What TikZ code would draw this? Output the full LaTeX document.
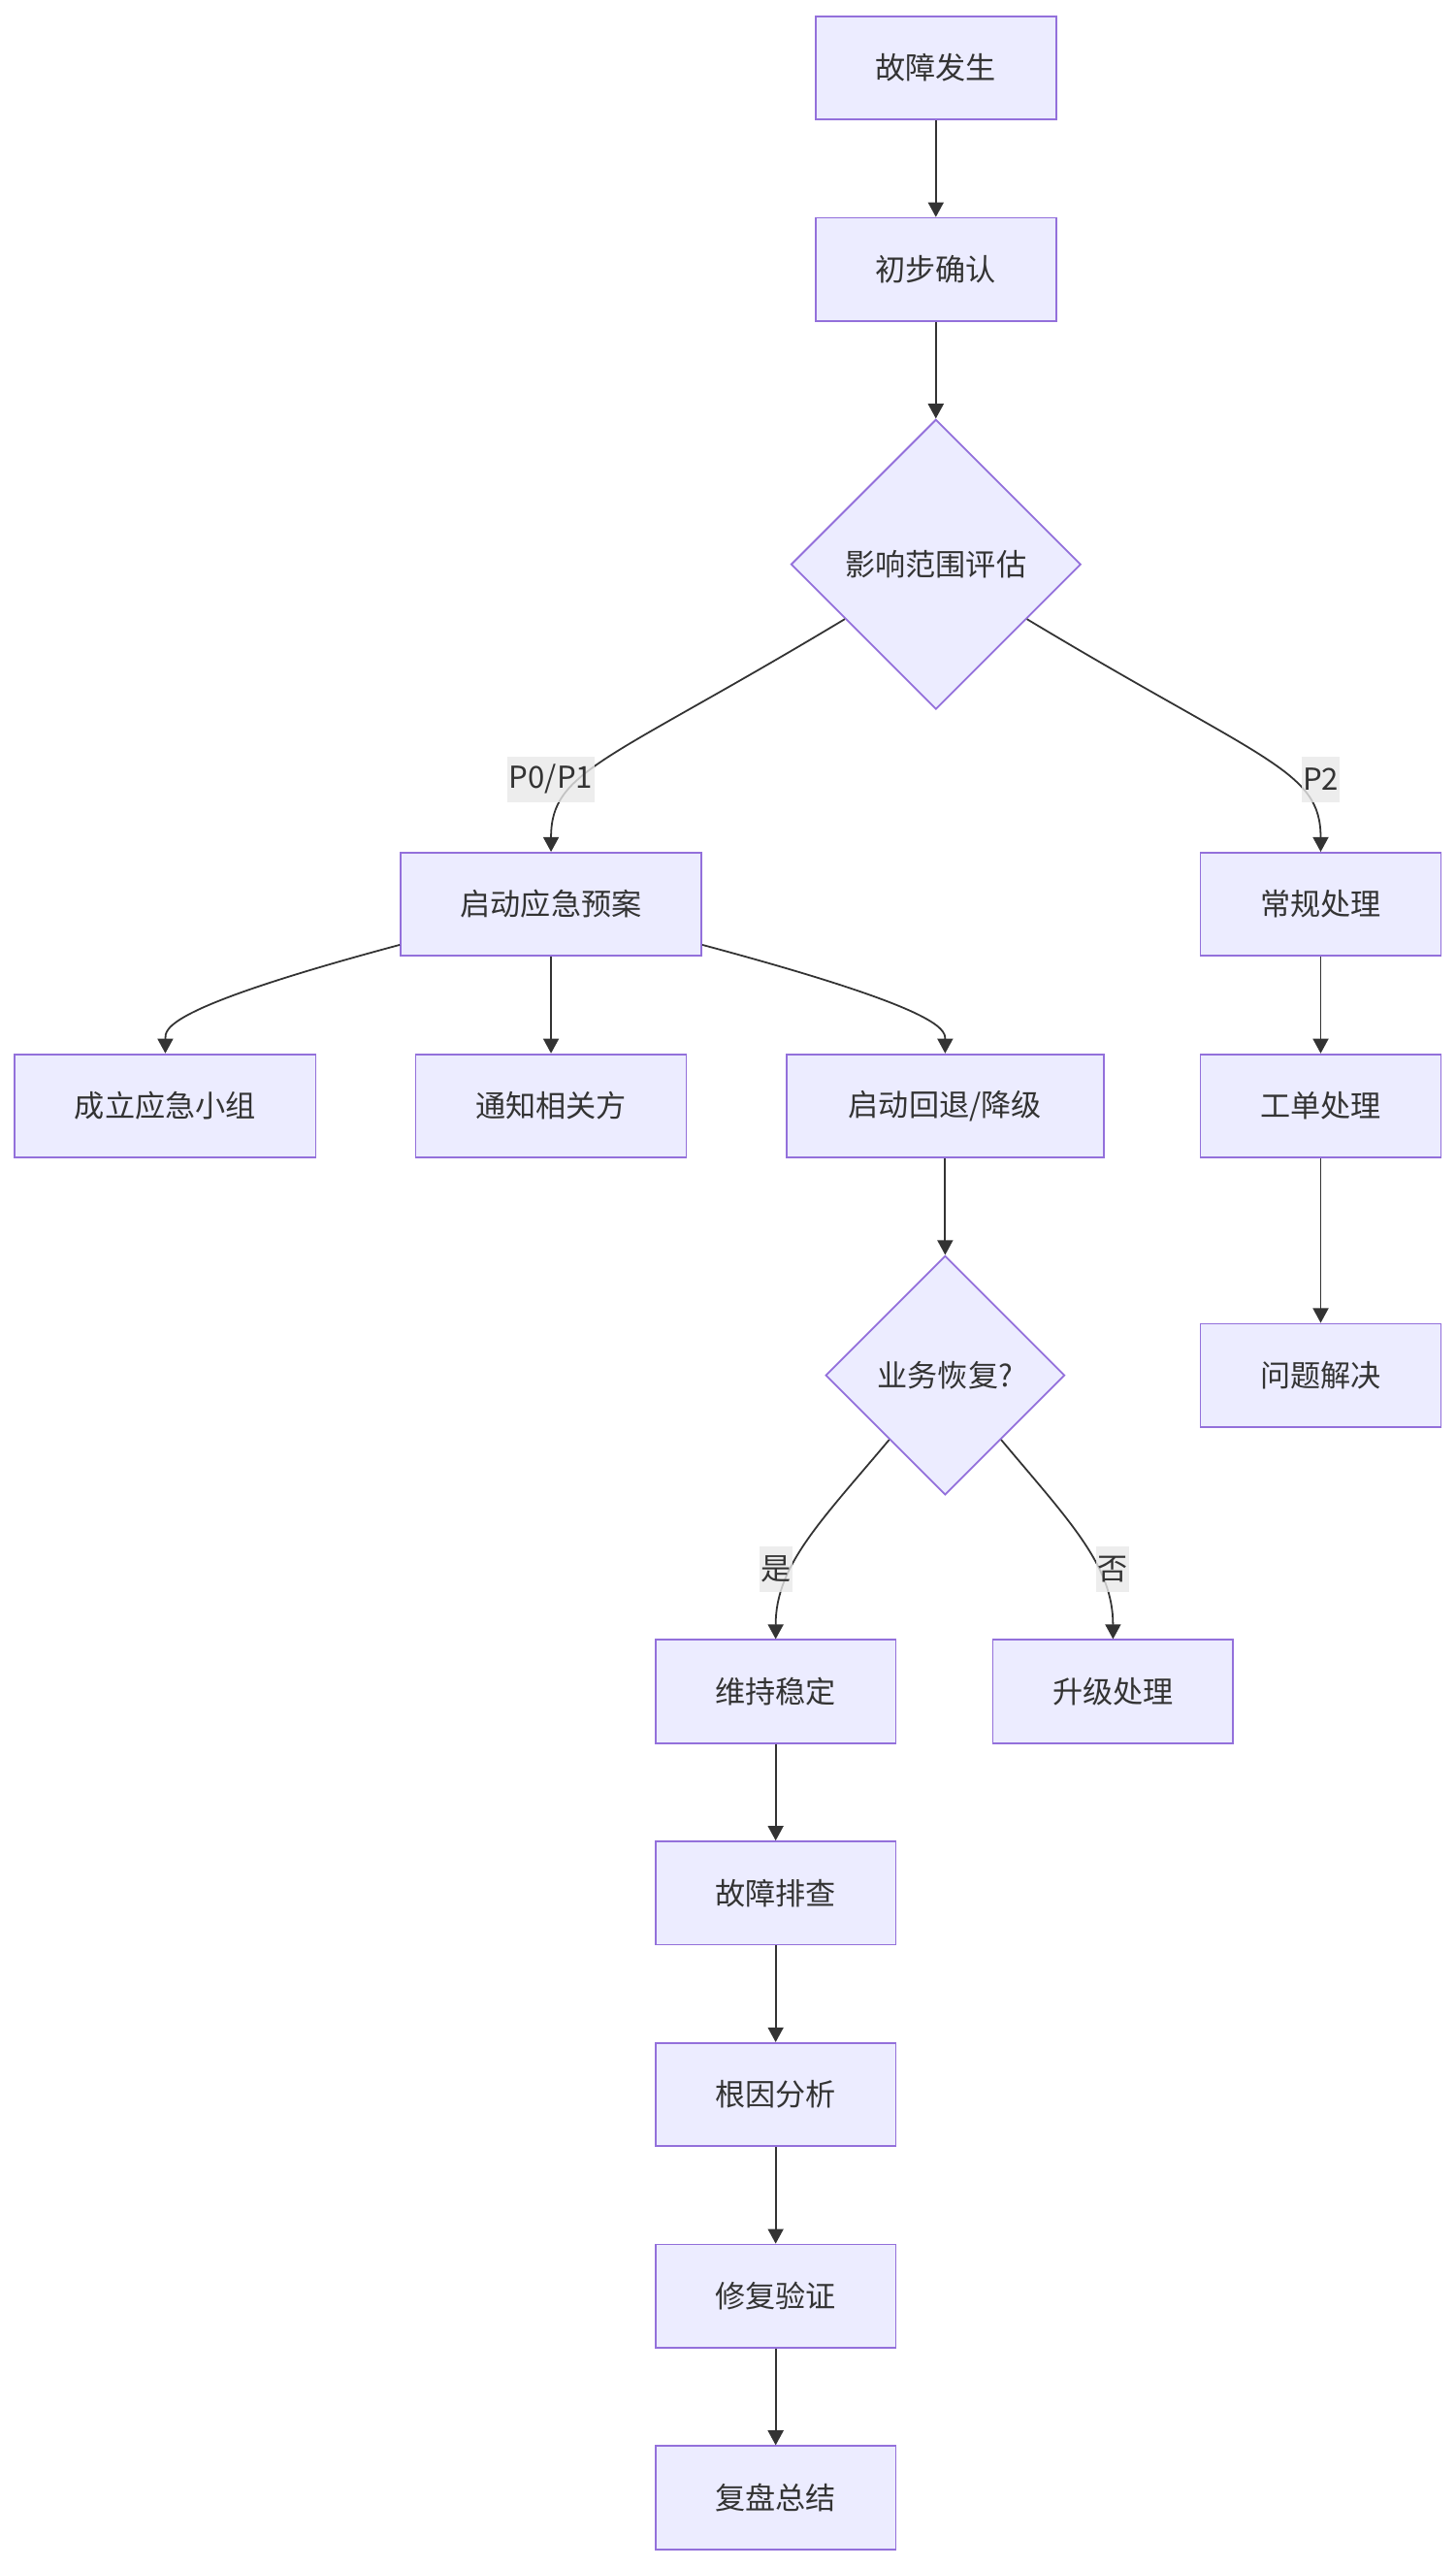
\documentclass[tikz,border=0pt]{standalone}
\usepackage{fontspec}
\setmainfont{Noto Sans CJK SC}
\usetikzlibrary{arrows.meta,positioning,shapes.geometric}
\definecolor{boxfill}{RGB}{236,236,255}
\definecolor{boxline}{RGB}{147,112,219}
\definecolor{ink}{RGB}{51,51,51}
\definecolor{tagfill}{RGB}{232,232,232}

\begin{document}
\begin{tikzpicture}[
    node distance=1.18cm,
    every node/.style={font=\fontsize{10.5pt}{12.6pt}\selectfont, text=ink},
    box/.style={draw=boxline, fill=boxfill, line width=0.6pt, minimum height=1.26cm, inner xsep=0.73cm},
    decision/.style={draw=boxline, fill=boxfill, line width=0.6pt, diamond, aspect=1, inner sep=0pt},
    edgetag/.style={fill=tagfill, fill opacity=0.8, text opacity=1, minimum height=0.56cm, inner xsep=0.5pt, inner ysep=0pt},
    flow/.style={-{Triangle[length=0.18cm, width=0.19cm]}, draw=ink, line width=0.6pt}
]
\useasboundingbox (0,0) rectangle (17.78,-31.36);
\node[box] (occur) at (11.43,-0.83) {故障发生};
\node[box, below=of occur] (confirm) {初步确认};
\node[decision, minimum size=3.54cm, below=of confirm] (assess) {影响范围评估};
\node[box, below=1.73cm of assess, xshift=-4.7cm] (plan) {启动应急预案};
\node[box, below=1.73cm of assess, xshift=4.7cm] (routine) {常规处理};
\node[box, below=of plan] (notify) {通知相关方};
\node[box, left=1.2cm of notify] (team) {成立应急小组};
\node[box, right=1.2cm of notify, minimum width=3.88cm] (fallback) {启动回退/降级};
\node[box, below=of routine] (ticket) {工单处理};
\node[decision, minimum size=2.92cm, below=of fallback] (recover) {业务恢复?};
\node[box, below=2.01cm of ticket] (solved) {问题解决};
\node[box, below=1.75cm of recover, xshift=-2.07cm] (stable) {维持稳定};
\node[box, below=1.75cm of recover, xshift=2.05cm] (escalate) {升级处理};
\node[box, below=of stable] (debug) {故障排查};
\node[box, below=of debug] (rootcause) {根因分析};
\node[box, below=of rootcause] (verify) {修复验证};
\node[box, below=of verify] (review) {复盘总结};
\draw[flow] (occur) -- (confirm);
\draw[flow] (confirm) -- (assess);
\draw[flow] (assess.211) .. controls +(211:3.4) and +(90:1) .. (plan.north);
\draw[flow] (assess.329) .. controls +(329:3.4) and +(90:1) .. (routine.north);
\draw[flow] (plan.195) .. controls +(195:3) and +(90:0.3) .. (team.north);
\draw[flow] (plan) -- (notify);
\draw[flow] (plan.345) .. controls +(345:3) and +(90:0.3) .. (fallback.north);
\draw[flow] (fallback) -- (recover);
\draw[flow] (recover.229) .. controls +(230:1.3) and +(90:0.9) .. (stable.north);
\draw[flow] (recover.311) .. controls +(310:1.3) and +(90:0.9) .. (escalate.north);
\draw[flow] (routine) -- (ticket);
\draw[flow] (ticket) -- (solved);
\draw[flow] (stable) -- (debug);
\draw[flow] (debug) -- (rootcause);
\draw[flow] (rootcause) -- (verify);
\draw[flow] (verify) -- (review);
\node[edgetag, above=0.6cm of plan] (tagsevere) {P0/P1};
\node[edgetag, above=0.6cm of routine] (tagminor) {P2};
\node[edgetag, above=0.57cm of stable] (tagyes) {是};
\node[edgetag, above=0.57cm of escalate] (tagno) {否};
\end{tikzpicture}
\end{document}
